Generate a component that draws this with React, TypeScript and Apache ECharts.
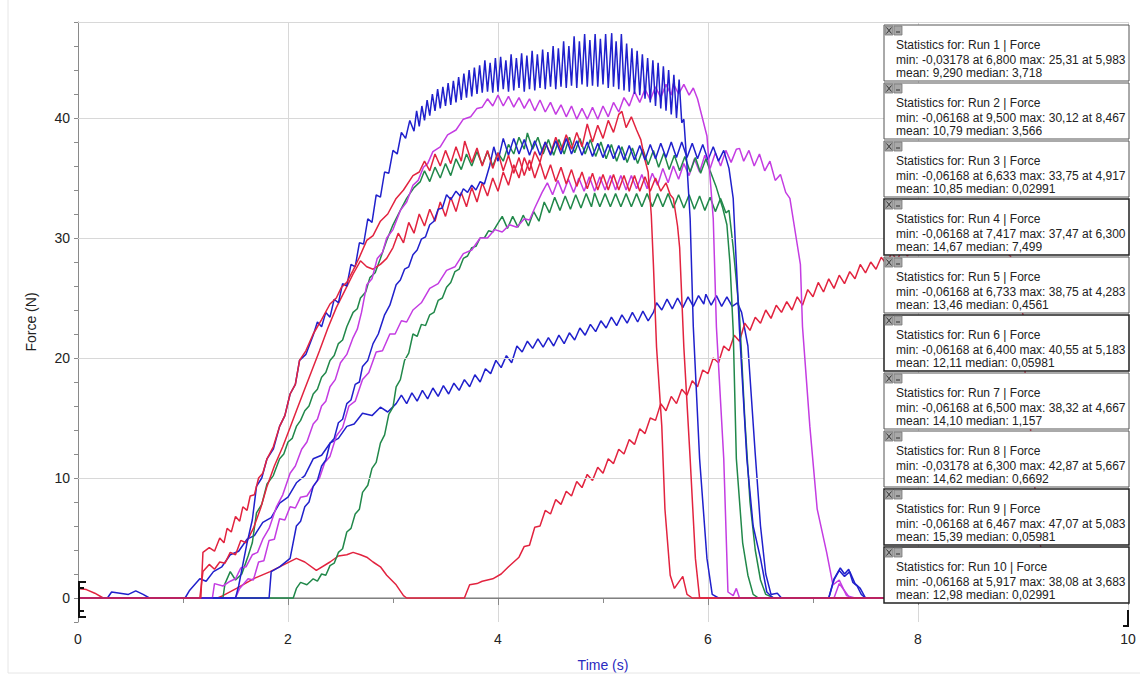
import React, { useEffect, useRef } from "react";
import * as echarts from "echarts";

type Pt = [number, number];

const blue = "#2020cc";
const red = "#e2233f";
const green = "#21884a";
const magenta = "#c43ce2";

const runNames = ["Run 1", "Run 2", "Run 3", "Run 4", "Run 5", "Run 6", "Run 7", "Run 8", "Run 9", "Run 10"];
const runColors = [blue, red, green, magenta, green, red, blue, magenta, blue, red];

const minVals = ["-0,03178", "-0,06168", "-0,06168", "-0,06168", "-0,06168", "-0,06168", "-0,06168", "-0,03178", "-0,06168", "-0,06168"];
const minAt = ["6,800", "9,500", "6,633", "7,417", "6,733", "6,400", "6,500", "6,300", "6,467", "5,917"];
const maxVals = ["25,31", "30,12", "33,75", "37,47", "38,75", "40,55", "38,32", "42,87", "47,07", "38,08"];
const maxAt = ["5,983", "8,467", "4,917", "6,300", "4,283", "5,183", "4,667", "5,667", "5,083", "3,683"];
const means = ["9,290", "10,79", "10,85", "14,67", "13,46", "12,11", "14,10", "14,62", "15,39", "12,98"];
const medians = ["3,718", "3,566", "0,02991", "7,499", "0,4561", "0,05981", "1,157", "0,6692", "0,05981", "0,02991"];

const xTicks = [0, 2, 4, 6, 8, 10];
const yTickLabels = [0, 10, 20, 30, 40];

const run1: Pt[] = [[0,0],[0.28,0],[0.32,0.5],[0.4,0.4],[0.48,0.3],[0.55,0.6],[0.62,0.3],[0.68,0],[1.02,0],[1.06,0.6],[1.16,1.6],[1.22,1.4],[1.29,2.2],[1.37,2.6],[1.45,3.6],[1.53,3.9],[1.61,4.9],[1.68,5.2],[1.76,6.3],[1.84,6.7],[1.92,7.9],[2.0,8.4],[2.08,9.6],[2.16,10.2],[2.24,11.6],[2.32,11.9],[2.4,12.9],[2.48,13.3],[2.56,14.3],[2.63,14.5],[2.71,15.4],[2.8,15.2],[2.88,15.9],[2.95,15.5],
[3.03,16.2],[3.08,16.9],[3.13,16.2],[3.18,17.1],[3.23,16.4],[3.28,17.3],[3.33,16.6],[3.38,17.5],[3.43,16.8],[3.48,17.7],[3.53,17.0],[3.58,17.9],[3.63,17.3],[3.68,18.2],[3.73,17.6],[3.78,18.6],[3.83,18.0],[3.88,19.1],[3.93,18.7],[3.98,19.8],[4.03,19.2],[4.08,20.2],[4.13,19.6],[4.18,21.0],[4.23,20.5],[4.28,21.4],[4.33,20.8],[4.38,21.6],[4.43,20.9],[4.48,21.7],[4.53,21.0],[4.58,21.9],[4.63,21.2],[4.68,22.1],[4.73,21.5],[4.78,22.5],[4.83,21.9],[4.88,22.8],[4.93,22.2],[4.98,23.1],[5.03,22.5],[5.08,23.4],[5.13,22.7],[5.18,23.6],[5.23,22.9],[5.28,23.8],[5.33,23.0],[5.38,23.9],[5.43,23.1],[5.48,23.8],[5.51,24.6],[5.56,24.0],[5.61,24.9],[5.66,24.1],[5.71,25.0],[5.76,24.2],[5.81,25.1],[5.86,24.3],[5.91,25.2],[5.96,24.5],[5.98,25.31],[6.03,24.4],[6.08,25.2],[6.13,24.3],[6.18,25.1],[6.23,24.3],[6.28,24.6],[6.32,23.8],[6.38,21],[6.45,12],[6.5,6],[6.55,2],[6.6,0.3],[6.66,0.4],[6.7,0],[7.15,0],[7.2,1.5],[7.25,2.3],[7.3,1.8],[7.35,2.2],[7.4,1.2],[7.45,0.8],[7.5,0],[10,0]];

const run2: Pt[] = [[0,0.8],[0.08,0.7],[0.16,0.4],[0.24,0],[1.33,0],[1.38,0.2],[1.51,0.8],[1.67,1.6],[1.83,2.2],[1.99,2.9],[2.08,3.3],[2.16,3.0],[2.27,2.3],[2.4,3.0],[2.48,3.5],[2.56,3.6],[2.62,3.8],[2.69,3.6],[2.75,3.4],[2.81,3.0],[2.88,2.6],[2.94,1.9],[3.03,1.1],[3.1,0.2],[3.13,0],[3.68,0],[3.73,1.1],[3.8,1.2],[3.85,1.4],[3.95,1.6],[4.03,2.0],[4.1,2.6],
[4.20,3.4],[4.25,4.3],[4.30,4.4],[4.35,5.9],[4.40,6.0],[4.45,7.3],[4.50,7.0],[4.55,8.2],[4.60,7.8],[4.65,8.9],[4.70,8.5],[4.75,9.7],[4.80,9.2],[4.85,10.3],[4.90,9.8],[4.95,10.9],[5.00,10.4],[5.05,11.6],[5.10,11.2],[5.15,12.4],[5.20,12.0],[5.25,13.2],[5.30,12.8],[5.35,14.1],[5.40,13.7],[5.45,15.0],[5.50,14.8],[5.55,16.2],[5.60,15.6],[5.65,16.8],[5.70,16.2],[5.75,17.4],[5.80,16.9],[5.85,18.1],[5.90,17.6],[5.95,19.0],[6.00,18.7],[6.05,20.0],[6.10,19.6],[6.15,21.0],[6.20,20.6],[6.25,21.9],[6.30,21.4],[6.35,22.9],[6.40,22.3],[6.45,23.4],[6.50,22.9],[6.55,24.0],[6.60,23.3],[6.65,24.4],[6.70,23.8],[6.75,24.7],[6.80,24.0],[6.85,25.1],[6.90,24.4],[6.95,25.7],[7.00,25.1],[7.05,26.3],[7.10,25.5],[7.15,26.6],[7.20,25.8],[7.25,26.9],[7.30,26.2],[7.35,27.2],[7.40,26.6],[7.45,27.8],[7.50,27.1],[7.55,28.0],[7.60,27.4],[7.65,28.4],[7.70,27.8],[7.75,28.8],[7.80,28.1],[7.85,29.1],[7.90,28.5],[7.95,29.6],[8.00,28.9],[8.05,29.8],[8.10,29.1],[8.15,30.0],[8.20,29.3],[8.25,30.1],[8.30,29.4],[8.35,30.1],[8.40,29.5],[8.47,30.12],[8.55,29.6],[8.65,30.0],[8.75,29.4],[8.88,28.5],[9.0,23.6],[9.02,18.8],[9.07,14.3],[9.11,9.5],[9.16,4.7],[9.25,0],[10,0]];

const run3: Pt[] = [[0,0],[2.05,0],[2.08,0.8],[2.12,1.3],[2.18,1.1],[2.24,1.6],[2.28,1.4],[2.32,2.0],[2.36,1.9],[2.4,2.7],[2.44,2.9],[2.48,3.8],[2.52,4.1],[2.56,5.5],[2.6,5.8],[2.64,7.0],[2.68,7.4],[2.71,8.8],[2.76,9.4],[2.8,10.8],[2.84,11.3],[2.88,12.9],[2.92,13.6],[2.96,15.3],[3.0,15.9],[3.03,17.6],[3.07,18.2],[3.11,19.8],[3.15,20.4],[3.19,22],[3.23,21.8],[3.27,22.8],[3.31,22.7],[3.35,23.6],[3.39,23.8],[3.43,24.8],[3.47,25.0],[3.51,25.9],[3.55,26.3],[3.59,27.2],[3.63,27.4],[3.67,28.3],[3.71,28.5],[3.75,29.2],[3.79,29.3],[3.83,30],[3.87,30.0],[3.91,30.6],[3.95,30.5],
[3.99,31.1],[4.04,31.8],[4.09,30.8],[4.14,31.8],[4.19,30.9],[4.24,31.9],[4.29,31.0],[4.34,32.2],[4.39,31.4],[4.44,33.0],[4.49,32.1],[4.54,33.4],[4.59,32.3],[4.64,33.5],[4.69,32.4],[4.74,33.6],[4.79,32.5],[4.84,33.7],[4.89,32.6],[4.92,33.75],[4.97,32.6],[5.02,33.7],[5.07,32.6],[5.12,33.7],[5.17,32.6],[5.22,33.7],[5.27,32.6],[5.32,33.7],[5.37,32.6],[5.42,33.7],[5.47,32.6],[5.52,33.7],[5.57,32.6],[5.62,33.7],[5.67,32.5],[5.72,33.6],[5.77,32.5],[5.82,33.6],[5.87,32.4],[5.92,33.5],[5.97,32.3],[6.02,33.4],[6.07,32.2],[6.12,33.3],[6.17,32.1],[6.2,32.3],[6.24,29.2],[6.3,23.6],[6.35,15],[6.4,8],[6.45,4],[6.5,1.5],[6.55,0.3],[6.63,0],[10,0]];

const run4: Pt[] = [[0,0],[1.5,0],[1.54,0.8],[1.62,1.6],[1.67,1.5],[1.72,3.0],[1.77,3.1],[1.82,4.8],[1.87,4.9],[1.92,6.6],[1.97,6.5],[2.02,7.6],[2.07,7.5],[2.12,8.4],[2.18,8.5],[2.24,9.3],[2.3,10.0],[2.35,11.3],[2.4,11.8],[2.46,13.5],[2.52,14.2],[2.58,16],[2.64,16.4],[2.71,18.2],[2.77,18.8],[2.84,20.5],[2.9,20.6],[2.97,22],[3.02,22.0],[3.08,23.1],[3.13,23.0],[3.19,24],[3.27,24.6],[3.35,25.8],[3.43,26.2],[3.51,27.3],[3.59,27.6],[3.67,28.7],[3.75,29.0],[3.83,30],[3.9,30.0],[3.97,30.7],[4.04,30.5],[4.11,31.1],[4.18,30.9],[4.25,31.6],[4.3,31.5],[4.35,32.5],
[4.42,33.8],[4.47,34.6],[4.52,33.6],[4.57,34.8],[4.62,33.7],[4.67,34.9],[4.72,33.8],[4.77,35.0],[4.82,33.9],[4.87,35.1],[4.92,33.9],[4.97,35.1],[5.02,34.0],[5.07,35.2],[5.12,34.0],[5.17,35.2],[5.22,34.0],[5.27,35.2],[5.32,34.1],[5.37,35.3],[5.42,34.1],[5.47,35.4],[5.52,34.4],[5.57,35.8],[5.62,34.6],[5.67,36.0],[5.72,34.9],[5.77,36.2],[5.82,35.2],[5.87,36.6],[5.92,35.5],[5.97,36.9],[6.02,35.8],[6.07,37.1],[6.12,36.0],[6.17,37.3],[6.22,36.3],[6.27,37.4],[6.30,37.47],[6.34,36.4],[6.39,37.3],[6.44,36.0],[6.49,37.0],[6.54,35.6],[6.59,36.4],[6.64,34.8],[6.69,35.3],[6.74,33.8],[6.78,33.3],[6.84,30],[6.88,27.8],[6.9,22.6],[6.97,14.3],[7.04,7.4],[7.13,3.8],[7.19,1.1],[7.25,1.5],[7.32,0.2],[7.4,0],[10,0]];

const run5: Pt[] = [[0,0],[1.38,0],[1.4,1.2],[1.45,2.2],[1.5,1.5],[1.56,2.0],[1.62,3.5],[1.66,4.6],[1.7,7.1],[1.75,7.8],[1.8,9.5],[1.86,10.2],[1.92,11.6],[1.96,12.0],[2.0,13],[2.04,13.3],[2.08,14.3],[2.12,14.8],[2.16,15.6],[2.2,16.0],[2.24,17],[2.28,17.4],[2.32,18.4],[2.36,18.8],[2.4,19.8],[2.44,20.2],[2.48,21.2],[2.52,21.5],[2.56,22.6],[2.62,23.8],[2.66,24.1],[2.69,25],[2.74,25.5],[2.78,26.7],[2.83,27.1],[2.88,28.3],[2.94,29.8],[3.0,31.1],[3.07,32.3],[3.13,33.3],[3.2,34.2],
[3.26,34.7],[3.30,35.6],[3.35,34.7],[3.40,35.9],[3.45,35.0],[3.50,36.2],[3.55,35.2],[3.60,36.6],[3.65,35.7],[3.70,37.0],[3.75,36.0],[3.80,37.2],[3.85,36.1],[3.90,37.2],[3.95,36.0],[4.00,37.1],[4.05,36.4],[4.10,37.8],[4.15,37.0],[4.20,38.4],[4.25,37.4],[4.28,38.75],[4.33,37.4],[4.38,38.4],[4.43,37.0],[4.48,38.2],[4.53,36.9],[4.58,38.2],[4.63,37.0],[4.68,38.4],[4.73,37.1],[4.78,38.3],[4.83,37.0],[4.88,38.2],[4.93,36.8],[4.98,38.0],[5.03,36.6],[5.08,37.8],[5.13,36.4],[5.18,37.6],[5.23,36.3],[5.28,37.5],[5.33,36.2],[5.38,37.4],[5.43,36.1],[5.48,37.3],[5.53,35.9],[5.58,37.1],[5.63,35.7],[5.68,36.9],[5.73,35.6],[5.78,36.8],[5.83,35.5],[5.88,36.7],[5.93,35.4],[5.98,36.6],[6.02,35.6],[6.08,34.2],[6.14,32.5],[6.18,31.1],[6.21,27.8],[6.24,22.3],[6.27,11.6],[6.33,4.6],[6.38,1.9],[6.43,0.3],[6.48,0],[10,0]];

const run6: Pt[] = [[0,0],[1.16,0],[1.19,2.2],[1.25,2.8],[1.3,2.4],[1.35,3.0],[1.4,2.9],[1.45,3.8],[1.5,3.6],[1.55,4.8],[1.6,4.6],[1.67,5.8],[1.74,7.5],[1.8,9.3],[1.87,11],[1.95,12.6],[2.02,14.2],[2.08,15.6],[2.15,17.2],[2.22,18.8],[2.3,20.6],[2.38,22.5],[2.46,24.2],[2.54,25.6],[2.62,27],[2.69,28.1],[2.75,27.6],[2.81,27.4],[2.88,27.8],[2.94,28.3],
[3.00,29.2],[3.05,30.4],[3.10,29.6],[3.15,31.3],[3.20,30.4],[3.25,32.0],[3.30,31.0],[3.35,32.4],[3.40,31.4],[3.45,33.0],[3.50,31.8],[3.55,33.4],[3.60,32.2],[3.65,33.8],[3.70,32.6],[3.75,34.2],[3.80,33.0],[3.85,34.6],[3.90,33.5],[3.95,35.0],[4.00,33.9],[4.05,35.5],[4.10,34.4],[4.15,36.1],[4.20,35.0],[4.25,36.7],[4.30,35.6],[4.35,37.2],[4.40,36.3],[4.45,38.0],[4.50,37.0],[4.55,38.4],[4.60,37.3],[4.65,38.6],[4.70,37.4],[4.75,38.8],[4.80,37.6],[4.85,39.5],[4.90,38.0],[4.95,39.4],[5.00,38.3],[5.05,39.8],[5.10,38.8],[5.15,40.3],[5.18,40.55],[5.22,39.2],[5.27,40.1],[5.32,39.0],[5.36,38.2],[5.40,36.5],[5.43,35.5],[5.46,31.9],[5.48,27.8],[5.51,20.9],[5.56,14.3],[5.59,7.4],[5.64,1.9],[5.68,0.8],[5.72,1.3],[5.76,1.8],[5.8,0.3],[5.85,0],[10,0]];

const run7: Pt[] = [[0,0],[1.82,0],[1.84,2.2],[1.92,2.6],[2.02,3.3],[2.08,6],[2.12,6.4],[2.16,7.6],[2.2,8.0],[2.24,9.3],[2.28,9.8],[2.32,11],[2.36,11.5],[2.4,12.9],[2.44,13.3],[2.48,14.6],[2.52,14.9],[2.56,16.2],[2.6,16.5],[2.64,17.8],[2.68,18.0],[2.71,19.3],[2.76,19.8],[2.81,21.2],[2.86,22.0],[2.92,23.6],[2.97,24.4],[3.03,26.1],[3.07,26.5],[3.11,27.4],[3.15,27.6],[3.19,28.6],[3.23,29.0],[3.27,29.9],[3.31,30.1],[3.35,31.1],[3.39,31.4],[3.43,32.4],[3.47,32.5],[3.51,33.6],[3.55,33.2],[3.6,33.9],[3.64,33.5],[3.67,34.1],[3.71,33.8],[3.75,34.4],[3.79,34.0],[3.83,34.7],[3.87,34.5],
[3.92,36.0],[3.96,37.6],[4.00,36.4],[4.05,38.3],[4.10,36.9],[4.15,38.3],[4.20,37.0],[4.25,38.2],[4.30,36.9],[4.35,38.1],[4.40,36.9],[4.45,38.0],[4.50,36.9],[4.55,38.1],[4.60,37.0],[4.65,38.3],[4.70,37.0],[4.75,38.1],[4.80,36.9],[4.85,38.0],[4.90,36.8],[4.95,37.9],[5.00,36.7],[5.05,37.8],[5.10,36.6],[5.15,37.7],[5.20,36.5],[5.25,37.7],[5.30,36.5],[5.35,37.7],[5.40,36.5],[5.45,37.8],[5.50,36.6],[5.55,37.9],[5.60,36.7],[5.65,38.0],[5.70,36.7],[5.75,38.0],[5.80,36.7],[5.85,37.9],[5.90,36.6],[5.95,37.8],[6.00,36.5],[6.05,37.6],[6.10,36.4],[6.15,37.3],[6.20,35.8],[6.24,33.3],[6.27,27.8],[6.3,22.3],[6.37,11.6],[6.43,6],[6.5,3.3],[6.56,0.5],[6.62,0],[7.15,0],[7.2,1.6],[7.26,2.5],[7.3,2.0],[7.34,2.4],[7.38,1.3],[7.42,1.0],[7.46,0.3],[7.5,0],[10,0]];

const run8: Pt[] = [[0,0],[1.28,0],[1.3,1.2],[1.38,1.0],[1.45,1.4],[1.5,1.6],[1.55,2.5],[1.6,2.6],[1.66,3.6],[1.71,3.8],[1.76,4.9],[1.82,5.8],[1.89,7.6],[1.95,8.6],[2.02,10.4],[2.07,11.0],[2.13,12.4],[2.18,13.0],[2.24,14.5],[2.28,14.9],[2.32,16],[2.36,16.4],[2.4,17.6],[2.45,18.2],[2.5,19.6],[2.56,20.3],[2.62,21.7],[2.66,22.4],[2.7,23.8],[2.75,26.1],[2.8,26.6],[2.85,28.3],[2.9,28.8],[2.94,30],[3.0,30.7],[3.07,32.3],[3.13,33.0],[3.19,34.4],[3.24,34.8],[3.29,35.9],[3.33,36.2],[3.38,37.2],[3.45,37.6],[3.52,38.6],[3.6,39.0],[3.67,39.9],[3.74,40.1],[3.8,40.8],[3.85,40.9],
[3.90,41.6],[3.95,41.0],[4.00,41.9],[4.05,41.0],[4.10,41.8],[4.15,40.9],[4.20,41.7],[4.25,40.8],[4.30,41.6],[4.35,40.6],[4.40,41.5],[4.45,40.5],[4.50,41.3],[4.55,40.3],[4.60,41.1],[4.65,40.1],[4.70,41.0],[4.75,39.9],[4.80,40.8],[4.85,39.9],[4.90,40.9],[4.95,39.9],[5.00,41.0],[5.05,40.1],[5.10,41.3],[5.15,40.5],[5.20,41.7],[5.25,41.0],[5.30,42.2],[5.35,41.3],[5.40,42.4],[5.45,41.5],[5.50,42.6],[5.55,41.7],[5.60,42.8],[5.65,41.9],[5.67,42.87],[5.72,42.0],[5.77,42.8],[5.82,41.9],[5.86,42.5],[5.9,41.6],[5.99,38.5],[6.05,31.6],[6.08,22.6],[6.15,11.6],[6.19,0.5],[6.24,0.2],[6.27,0.8],[6.3,0],[7.2,0],[7.25,1.2],[7.3,0.6],[7.35,0],[10,0]];

const run9: Pt[] = [[0,0],[1.5,0],[1.53,1.0],[1.61,4.6],[1.66,6.5],[1.7,9.3],[1.75,10.0],[1.8,11.6],[1.86,12.4],[1.92,14.3],[1.97,15.2],[2.02,17],[2.07,17.8],[2.11,19.8],[2.17,20.3],
[2.24,21.9],[2.28,23.0],[2.32,22.6],[2.36,23.8],[2.40,23.4],[2.44,24.9],[2.48,24.6],[2.52,26.2],[2.56,26.0],[2.60,27.8],[2.64,27.6],[2.68,29.6],[2.72,29.5],[2.76,31.6],[2.80,31.3],[2.84,33.6],[2.88,33.4],[2.92,35.5],[2.96,35.4],[3.00,37.3],[3.04,37.0],[3.08,38.8],[3.12,38.3],[3.16,39.8],[3.20,38.9],
[3.225,40.6],[3.25,39.3],[3.275,41.0],[3.3,39.8],[3.325,41.5],[3.35,40.2],[3.375,42.0],[3.4,40.6],[3.425,42.4],[3.45,40.8],[3.475,42.6],[3.5,41.0],[3.525,42.9],[3.55,41.1],[3.575,43.1],[3.6,41.3],[3.625,43.4],[3.65,41.5],[3.675,43.7],[3.7,41.7],[3.725,44.0],[3.75,41.8],[3.775,44.2],[3.8,42.0],[3.825,44.4],[3.85,42.1],[3.875,44.8],[3.9,42.2],[3.925,44.6],[3.95,42.1],[3.975,45.0],[4.0,42.2],[4.025,45.1],[4.05,42.4],[4.075,44.8],[4.1,42.2],[4.125,45.3],[4.15,42.3],[4.175,45.0],[4.2,42.5],[4.225,45.4],[4.25,42.2],[4.275,45.2],[4.3,42.4],[4.325,45.6],[4.35,42.3],[4.375,45.3],[4.4,42.5],[4.425,45.7],[4.45,42.4],[4.475,45.5],[4.5,42.6],[4.525,46.0],[4.55,42.4],[4.575,45.8],[4.6,42.6],[4.625,46.4],[4.65,42.5],[4.675,46.0],[4.7,42.7],[4.725,46.8],[4.75,42.5],[4.775,46.4],[4.8,42.8],[4.825,47.0],[4.85,42.6],[4.875,46.5],[4.9,42.7],[4.925,47.0],[4.95,42.6],[4.975,46.6],[5.0,42.8],[5.025,47.0],[5.05,42.5],[5.083,47.07],[5.1,42.6],[5.125,46.4],[5.15,42.4],[5.175,47.0],[5.2,42.3],[5.225,46.2],[5.25,42.2],[5.275,45.8],[5.3,42.0],[5.325,45.6],[5.35,41.9],[5.375,45.3],[5.4,41.6],[5.425,45.0],[5.45,41.3],[5.475,44.8],[5.5,41.0],[5.525,44.6],[5.55,40.8],[5.575,44.3],[5.6,40.6],[5.625,44.0],[5.65,40.3],[5.675,43.6],[5.7,40.0],[5.725,43.2],[5.75,39.6],[5.77,39.9],[5.8,36],[5.83,31.6],[5.86,22.6],[5.92,11.6],[5.99,3.3],[6.04,0.3],[6.1,0],[10,0]];

const run10: Pt[] = [[0,0],[1.17,0],[1.19,3.8],[1.25,4.2],[1.3,3.9],[1.35,5.0],[1.39,4.6],[1.42,5.8],[1.46,5.5],[1.5,6.8],[1.54,6.4],[1.57,7.6],[1.61,7.3],[1.64,8.5],[1.68,8.6],[1.72,10],[1.76,10.4],[1.8,11.6],[1.86,12.6],[1.92,14.3],[1.97,15.2],[2.02,17],[2.07,17.8],[2.11,19.8],[2.17,20.6],[2.24,22],[2.32,23.2],[2.4,24.5],[2.46,25.0],[2.51,25.9],[2.56,26.3],[2.62,27.3],[2.68,28.4],[2.75,29.8],[2.81,30.2],[2.88,31.4],[2.95,32.0],[3.03,33.3],[3.1,34.0],[3.19,35.2],[3.25,35.5],
[3.30,36.4],[3.35,35.6],[3.40,37.0],[3.45,36.0],[3.50,37.3],[3.55,36.2],[3.60,37.6],[3.65,36.4],[3.683,38.08],[3.75,36.3],[3.80,37.5],[3.85,36.0],[3.90,37.3],[3.95,35.8],[4.00,37.1],[4.05,35.6],[4.10,36.9],[4.15,35.4],[4.20,36.7],[4.25,35.2],[4.30,36.5],[4.35,35.0],[4.40,36.3],[4.45,34.9],[4.50,36.1],[4.55,34.7],[4.60,35.9],[4.65,34.5],[4.70,35.7],[4.75,34.3],[4.80,35.5],[4.85,34.1],[4.90,35.4],[4.95,34.0],[5.00,35.3],[5.05,34.0],[5.10,35.3],[5.15,34.0],[5.20,35.2],[5.25,33.9],[5.30,35.2],[5.35,33.9],[5.40,35.1],[5.45,33.9],[5.50,35.0],[5.55,33.9],[5.60,34.6],[5.64,33.6],[5.67,33.3],[5.71,31],[5.73,29.2],[5.77,20.9],[5.83,11.6],[5.88,3.3],[5.92,0],[10,0]];

const runs: Pt[][] = [run1, run2, run3, run4, run5, run6, run7, run8, run9, run10];

const FONT = "'Liberation Sans', Arial, sans-serif";

export default function App() {
  const ref = useRef<HTMLDivElement>(null);
  useEffect(() => {
    if (!ref.current) return;
    const chart = echarts.init(ref.current, null, { renderer: "svg" });

    const boxes: any[] = [];
    runNames.forEach((name, i) => {
      const top = 25 + i * 58;
      const left = 884;
      const strong = i === 3 || i === 5 || i === 8 || i === 9;
      boxes.push({
        type: "rect",
        shape: { x: left, y: top, width: 245, height: 56 },
        style: { fill: "#fff", stroke: strong ? "#222" : "#555", lineWidth: strong ? 1.5 : 1 },
        z: 100,
      });
      boxes.push({ type: "rect", shape: { x: left + 1, y: top + 1, width: 8, height: 9 }, style: { fill: "#a8a8a8", stroke: "#777", lineWidth: 0.8 }, z: 101 });
      boxes.push({ type: "rect", shape: { x: left + 10, y: top + 1, width: 8, height: 9 }, style: { fill: "#a8a8a8", stroke: "#777", lineWidth: 0.8 }, z: 101 });
      boxes.push({ type: "line", shape: { x1: left + 2.5, y1: top + 2.5, x2: left + 7.5, y2: top + 8.5 }, style: { stroke: "#333", lineWidth: 1 }, z: 102 });
      boxes.push({ type: "line", shape: { x1: left + 7.5, y1: top + 2.5, x2: left + 2.5, y2: top + 8.5 }, style: { stroke: "#333", lineWidth: 1 }, z: 102 });
      boxes.push({ type: "line", shape: { x1: left + 12, y1: top + 7, x2: left + 16, y2: top + 7 }, style: { stroke: "#333", lineWidth: 1 }, z: 102 });
      const lines = [
        `Statistics for: ${name} | Force`,
        `min: ${minVals[i]} at ${minAt[i]} max: ${maxVals[i]} at ${maxAt[i]}`,
        `mean: ${means[i]} median: ${medians[i]}`,
      ];
      const ys = [top + 20, top + 35, top + 48];
      lines.forEach((t, k) => {
        boxes.push({
          type: "text",
          x: 896,
          y: ys[k],
          style: { text: t, font: `12px ${FONT}`, fill: "#222", verticalAlign: "middle" },
          z: 103,
        });
      });
    });

    const markers: any[] = [
      { type: "polyline", shape: { points: [[86, 582], [79, 582], [79, 617], [86, 617]] }, style: { stroke: "#111", lineWidth: 2, fill: null }, z: 50 },
      { type: "line", shape: { x1: 79, y1: 588, x2: 84, y2: 588 }, style: { stroke: "#111", lineWidth: 2 }, z: 50 },
      { type: "line", shape: { x1: 79, y1: 611, x2: 84, y2: 611 }, style: { stroke: "#111", lineWidth: 2 }, z: 50 },
      { type: "polyline", shape: { points: [[1123, 626], [1128, 626], [1128, 610]] }, style: { stroke: "#111", lineWidth: 2, fill: null }, z: 50 },
      { type: "rect", shape: { x: 8, y: -2, width: 1140, height: 675 }, style: { fill: null, stroke: "#e6e6e6", lineWidth: 1 }, z: 1, silent: true },
    ];

    const series: any[] = [
      {
        type: "line",
        data: [[0, 0], [10, 0]],
        symbol: "none",
        silent: true,
        lineStyle: { color: "#777", width: 1 },
        z: 1,
        markLine: {
          silent: true,
          symbol: "none",
          label: { show: false },
          lineStyle: { color: "#d8d8d8", type: "solid", width: 1 },
          data: [{ yAxis: 10 }, { yAxis: 20 }, { yAxis: 30 }, { yAxis: 40 }, { yAxis: 48 }],
        },
      },
    ];
    runs.forEach((d, i) => {
      series.push({
        type: "line",
        name: runNames[i],
        data: d,
        symbol: "none",
        silent: true,
        lineStyle: { color: runColors[i], width: 1.5 },
        z: 2 + i,
      });
    });

    chart.setOption({
      animation: false,
      backgroundColor: "#fff",
      textStyle: { fontFamily: FONT },
      grid: { left: 78, right: 12, top: 22, bottom: 50, containLabel: false },
      xAxis: {
        type: "value",
        min: xTicks[0],
        max: xTicks[xTicks.length - 1],
        interval: 2,
        axisLine: { lineStyle: { color: "#8a8a8a" } },
        axisTick: { length: 7, lineStyle: { color: "#8a8a8a" } },
        minorTick: { show: true, splitNumber: 2, length: 5, lineStyle: { color: "#8a8a8a" } },
        splitLine: { show: true, lineStyle: { color: "#d8d8d8" } },
        axisLabel: { fontSize: 14, color: "#222", margin: 10, fontFamily: FONT },
        name: "Time (s)",
        nameLocation: "middle",
        nameGap: 36,
        nameTextStyle: { color: "#2a2ac0", fontSize: 14, fontFamily: FONT },
      },
      yAxis: {
        type: "value",
        min: -2,
        max: 48,
        interval: 2,
        axisLine: { show: true, lineStyle: { color: "#8a8a8a" } },
        axisTick: { show: true, length: 4, lineStyle: { color: "#8a8a8a" } },
        splitLine: { show: false },
        axisLabel: {
          fontSize: 14,
          color: "#222",
          margin: 8,
          fontFamily: FONT,
          formatter: (v: number) => (yTickLabels.indexOf(Math.round(v)) >= 0 && Math.abs(v - Math.round(v)) < 1e-6 ? String(Math.round(v)) : ""),
        },
        name: "Force (N)",
        nameLocation: "middle",
        nameGap: 40,
        nameRotate: 90,
        nameTextStyle: { color: "#222", fontSize: 14, fontFamily: FONT },
      },
      series,
      graphic: [...markers, ...boxes],
    });
    return () => chart.dispose();
  }, []);
  return <div ref={ref} style={{ position: "absolute", left: 0, top: 0, width: 1140, height: 677, background: "#fff" }} />;
}
